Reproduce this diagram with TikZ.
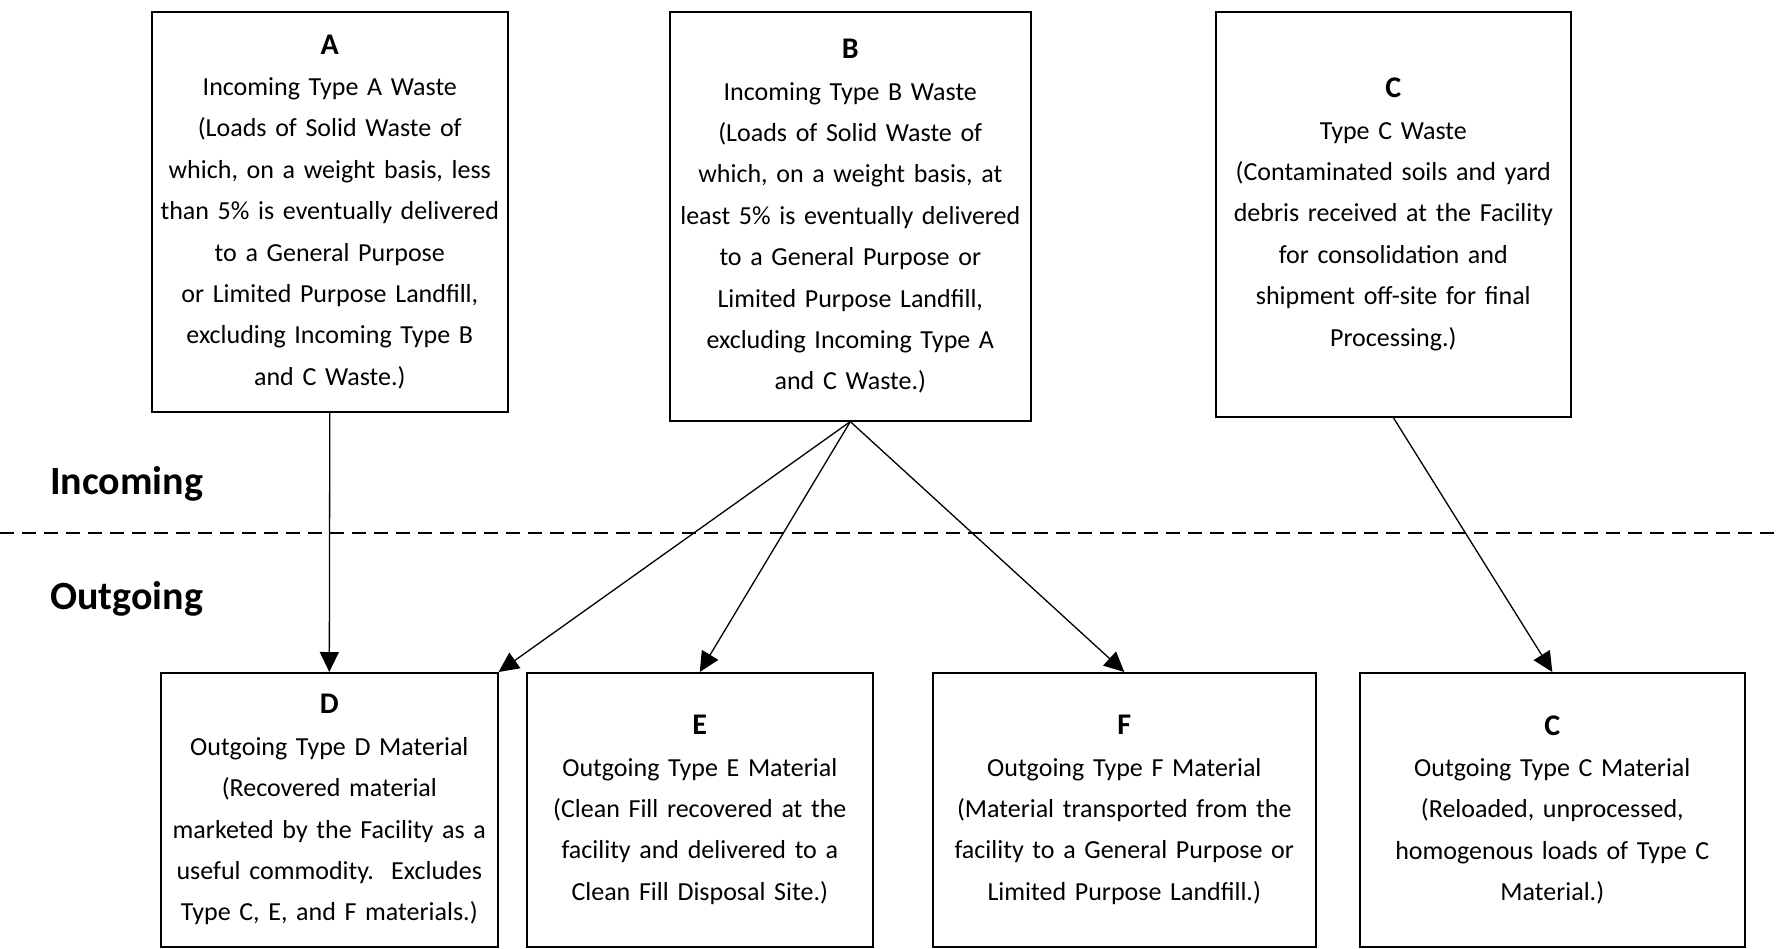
\documentclass[tikz,border=0pt]{standalone}
\usepackage{fontspec}
\setmainfont{Carlito}
\usetikzlibrary{arrows.meta}
\newcommand\hdr[1]{{\bfseries\fontsize{30}{43}\selectfont #1}}
\begin{document}
\begin{tikzpicture}[x=1pt,y=-1pt,
  box/.style={draw, line width=1.6pt, align=center, inner sep=0pt, anchor=north west,
    font=\fontsize{26}{41.4}\selectfont},
  flow/.style={draw, line width=1.3pt, -{Triangle[length=20pt,width=19pt]}},
  sect/.style={anchor=west, font=\bfseries\fontsize{40}{46}\selectfont, inner sep=0pt},
  divider/.style={line width=1.3pt, dash pattern=on 14pt off 8pt}]
\useasboundingbox[fill=white] (0,0) rectangle (1778,948);

\node[box, minimum width=356pt, minimum height=400pt, text width=354pt] (A) at (151,11)
 {\hdr{A}\\Incoming Type A Waste\\(Loads of Solid Waste of\\which, on a weight basis, less\\than 5\% is eventually delivered\\to a General Purpose\\or Limited Purpose Landfill,\\excluding Incoming Type B\\and C Waste.)};
\node[box, minimum width=361pt, minimum height=409pt, text width=359pt] (B) at (669,11)
 {\hdr{B}\\Incoming Type B Waste\\(Loads of Solid Waste of\\which, on a weight basis, at\\least 5\% is eventually delivered\\to a General Purpose or\\Limited Purpose Landfill,\\excluding Incoming Type A\\and C Waste.)};
\node[box, minimum width=355pt, minimum height=405pt, text width=353pt] (Ct) at (1215,11)
 {\hdr{C}\\Type C Waste\\(Contaminated soils and yard\\debris received at the Facility\\for consolidation and\\shipment off-site for final\\Processing.)};

\node[box, minimum width=337pt, minimum height=274pt, text width=335pt] (D) at (160,672)
 {\hdr{D}\\Outgoing Type D Material\\(Recovered material\\marketed by the Facility as a\\useful commodity.\ \ Excludes\\Type C, E, and F materials.)};
\node[box, minimum width=346pt, minimum height=274pt, text width=344pt] (E) at (526,672)
 {\hdr{E}\\Outgoing Type E Material\\(Clean Fill recovered at the\\facility and delivered to a\\Clean Fill Disposal Site.)};
\node[box, minimum width=383pt, minimum height=274pt, text width=381pt] (F) at (932,672)
 {\hdr{F}\\Outgoing Type F Material\\(Material transported from the\\facility to a General Purpose or\\Limited Purpose Landfill.)};
\node[box, minimum width=385pt, minimum height=274pt, text width=383pt] (Cb) at (1359,672)
 {\hdr{C}\\Outgoing Type C Material\\(Reloaded, unprocessed,\\homogenous loads of Type C\\Material.)};

\node[sect] (inc) at (50,484) {Incoming};
\node[sect] (out) at (50,599) {Outgoing};
\coordinate (dl) at (0,533);
\coordinate (dr) at (1778,533);
\draw[divider] (dl) -- (dr);

\draw[flow] (A.south) -- (D.north);
\draw[flow] (B.south) -- (D.north east);
\draw[flow] (B.south) -- (E.north);
\draw[flow] (B.south) -- (F.north);
\draw[flow] (Ct.south) -- (Cb.north);
\end{tikzpicture}
\end{document}
